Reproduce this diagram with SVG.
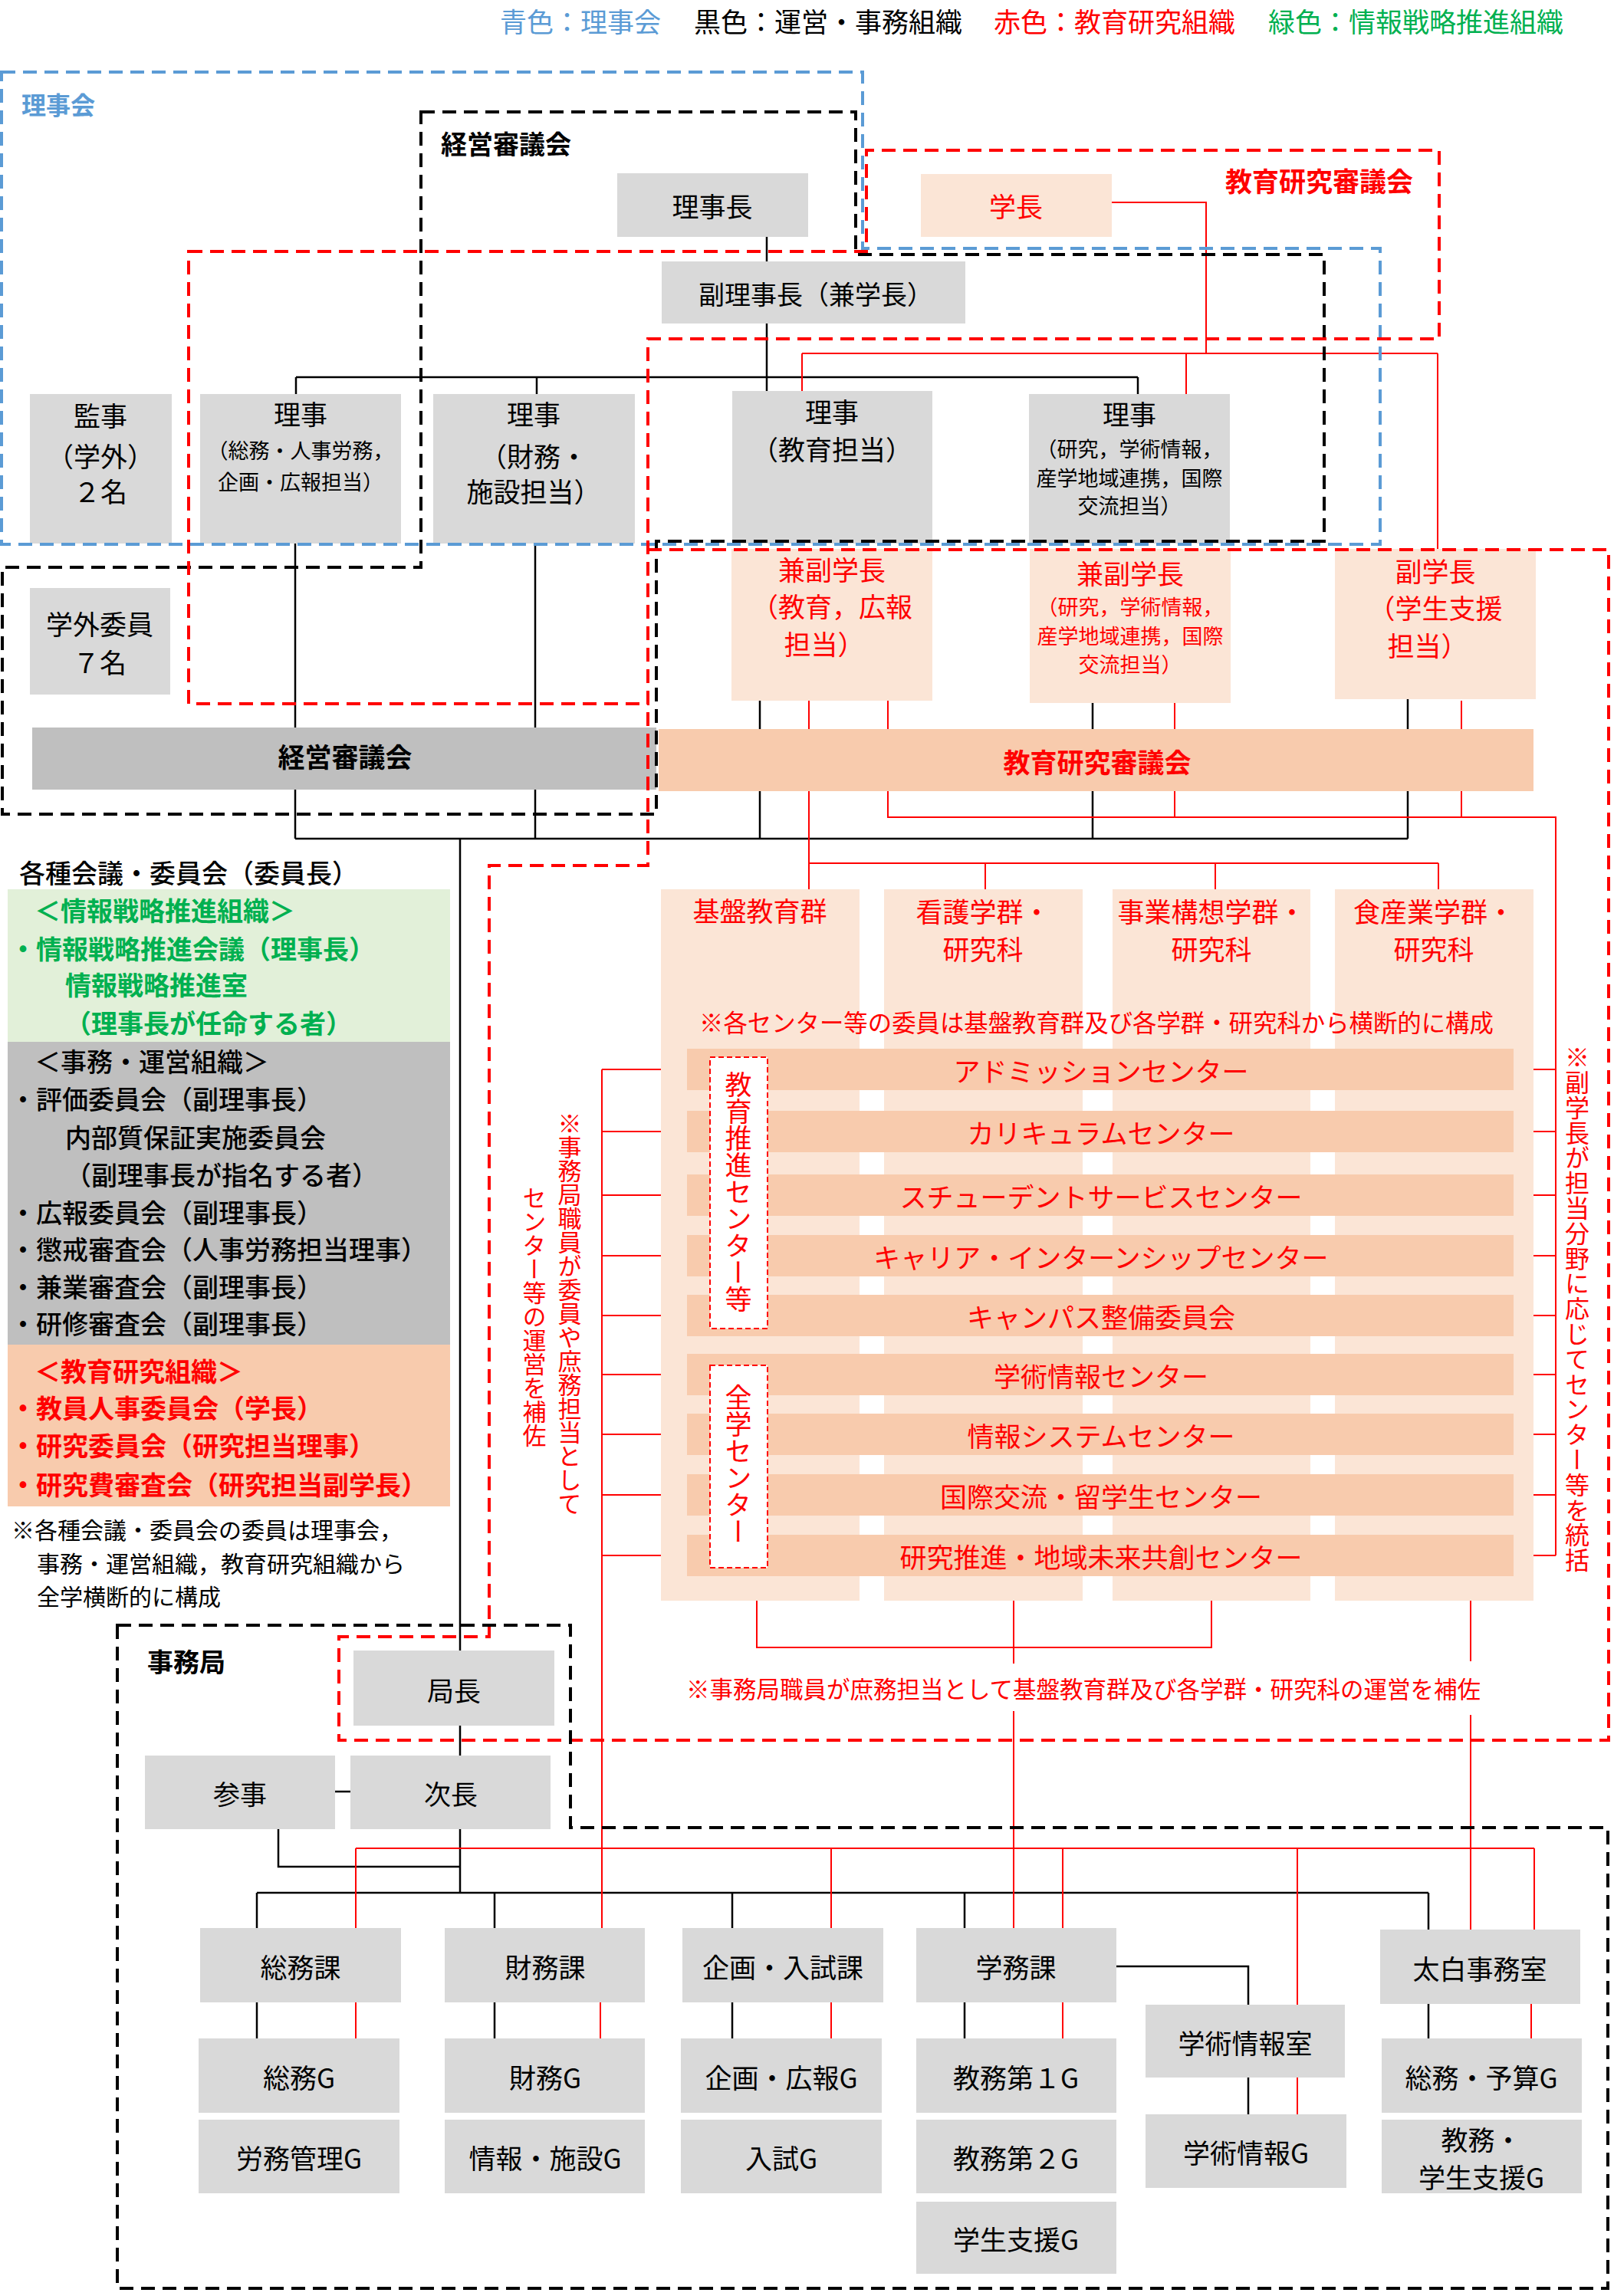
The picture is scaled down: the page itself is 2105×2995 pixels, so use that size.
<svg xmlns="http://www.w3.org/2000/svg" width="2105" height="2995" viewBox="0 0 2105 2995">
<defs>
<style>
text{font-family:"Noto Sans CJK JP","Noto Sans CJK SC",sans-serif;dominant-baseline:central}
.t{font-size:35px;fill:#000;text-anchor:middle}
.s{font-size:27px;fill:#000;text-anchor:middle}
.rd{fill:#ff0000}
.bd{font-weight:bold}
.md{font-weight:500}
.l{font-size:34px;text-anchor:start}
.v{writing-mode:vertical-rl;text-anchor:start;fill:#ff0000}
.g{fill:#d9d9d9}
.dg{fill:#bfbfbf}
.lo{fill:#fbe5d6}
.or{fill:#f8cbad}
.cb{stroke:#000;stroke-width:2.5;fill:none}
.cr{stroke:#ff0000;stroke-width:2;fill:none}
.dk{stroke:#000;stroke-width:4;stroke-dasharray:18 10;fill:none}
.dr{stroke:#ff0000;stroke-width:4;stroke-dasharray:18 10;fill:none}
.dbl{stroke:#5b9bd5;stroke-width:4;stroke-dasharray:18 10;fill:none}
.ds{stroke:#ff0000;stroke-width:2;stroke-dasharray:7 4;fill:#fff}
</style>
</defs>
<rect width="2105" height="2995" fill="#fff"/>

<g id="legend">
<text class="l" x="652" y="26" style="font-size:35px;fill:#5b9bd5">青色：理事会</text>
<text class="l" x="905" y="26" style="font-size:35px;fill:#000">黒色：運営・事務組織</text>
<text class="l" x="1296" y="26" style="font-size:35px;fill:#ff0000">赤色：教育研究組織</text>
<text class="l" x="1654" y="26" style="font-size:35px;fill:#00b050">緑色：情報戦略推進組織</text>
</g>

<g id="connectors">
<path class="cb" d="M1000,309V341M1000,422V510M386,492H1484M386,492V514M700,492V514M1484,492V514M385,709V1094M698,709V1094M385,1094H1836M991,914V1094M1425,917V1094M1836,912V1094M600,1094V2153M600,2251V2290M600,2386V2469M363,2386V2435H600M437,2337H457M335,2469H1863M335,2469V2515M645,2469V2515M955,2469V2515M1258,2469V2515M1863,2469V2517M1456,2565H1628V2615M335,2612V2659M645,2612V2659M955,2612V2659M1258,2612V2659M1863,2614V2659M1628,2710V2758"/>
<path class="cr" d="M1450,264H1573V461M1046,461H1875M1046,461V510M1547,461V514M1875,461V716M1055,914V1160M1055,1126H1876M1285,1126V1160M1585,1126V1160M1876,1126V1160M1158,914V1066H2029V2029M1532,917V1066M1906,914V1066M785,1395V2515M785,1395H896M785,1476H896M785,1559H896M785,1638H896M785,1716H896M785,1793H896M785,1871H896M785,1950H896M785,2029H896M1974,1395H2029M1974,1476H2029M1974,1559H2029M1974,1638H2029M1974,1716H2029M1974,1793H2029M1974,1871H2029M1974,1950H2029M1974,2029H2029M987,2088V2149H1580V2088M1322,2088V2170M1322,2232V2515M1918,2088V2167M1918,2237V2517M464,2411H2001M464,2411V2515M1084,2411V2515M1386,2411V2515M1692,2411V2615M2001,2411V2517M464,2612V2659M783,2612V2659M1084,2612V2659M1386,2612V2659M1997,2614V2659M1692,2710V2758"/>
</g>

<g id="rijicho"><rect class="g" x="805" y="226" width="249" height="83"/><text class="t" x="929" y="267">理事長</text></g>
<g id="gakucho"><rect class="lo" x="1201" y="227" width="249" height="82"/><text class="t rd" x="1325" y="267">学長</text></g>
<g id="fukurijicho"><rect class="g" x="863" y="341" width="396" height="81"/><text class="t" x="1064" y="382" style="font-size:34px">副理事長（兼学長）</text></g>
<g id="kanji"><rect class="g" x="39" y="514" width="185" height="195"/><text class="t" x="131" y="540">監事</text><text class="t" x="131" y="593">（学外）</text><text class="t" x="131" y="639">２名</text></g>
<g id="riji-somu"><rect class="g" x="261" y="514" width="262" height="195"/><text class="t" x="392" y="538">理事</text><text class="s" x="392" y="586">（総務・人事労務，</text><text class="s" x="392" y="627">企画・広報担当）</text></g>
<g id="riji-zaimu"><rect class="g" x="565" y="514" width="263" height="195"/><text class="t" x="696" y="538">理事</text><text class="t" x="696" y="593">（財務・</text><text class="t" x="696" y="639">施設担当）</text></g>
<g id="riji-kyoiku"><rect class="g" x="955" y="510" width="261" height="199"/><text class="t" x="1085" y="535">理事</text><text class="t" x="1085" y="584">（教育担当）</text></g>
<g id="riji-kenkyu"><rect class="g" x="1342" y="514" width="262" height="195"/><text class="t" x="1473" y="538">理事</text><text class="s" x="1473" y="584">（研究，学術情報，</text><text class="s" x="1473" y="622">産学地域連携，国際</text><text class="s" x="1473" y="658">交流担当）</text></g>

<g id="kenfuku-kyoiku"><rect class="lo" x="954" y="716" width="262" height="198"/><text class="t rd" x="1085" y="741">兼副学長</text><text class="t rd" x="1085" y="789">（教育，広報</text><text class="t rd" x="1075" y="838">担当）</text></g>
<g id="kenfuku-kenkyu"><rect class="lo" x="1343" y="716" width="262" height="201"/><text class="t rd" x="1474" y="746">兼副学長</text><text class="s rd" x="1474" y="790">（研究，学術情報，</text><text class="s rd" x="1474" y="828">産学地域連携，国際</text><text class="s rd" x="1474" y="865">交流担当）</text></g>
<g id="fukugakucho"><rect class="lo" x="1741" y="716" width="262" height="196"/><text class="t rd" x="1872" y="743">副学長</text><text class="t rd" x="1872" y="791">（学生支援</text><text class="t rd" x="1862" y="840">担当）</text></g>

<g id="gakugai"><rect class="g" x="39" y="767" width="183" height="139"/><text class="t" x="130" y="812">学外委員</text><text class="t" x="130" y="862">７名</text></g>
<g id="keiei-bar"><rect class="dg" x="42" y="949" width="814" height="81"/><text class="t bd" x="450" y="985">経営審議会</text></g>
<g id="kyoken-bar"><rect class="or" x="859" y="951" width="1141" height="81"/><text class="t bd rd" x="1431" y="992">教育研究審議会</text></g>

<g id="columns">
<rect class="lo" x="862" y="1160" width="259" height="928"/>
<rect class="lo" x="1153" y="1160" width="259" height="928"/>
<rect class="lo" x="1451" y="1160" width="258" height="928"/>
<rect class="lo" x="1741" y="1160" width="259" height="928"/>
<text class="t rd" x="991" y="1186">基盤教育群</text>
<text class="t rd" x="1282" y="1187">看護学群・</text><text class="t rd" x="1282" y="1236">研究科</text>
<text class="t rd" x="1580" y="1187">事業構想学群・</text><text class="t rd" x="1580" y="1236">研究科</text>
<text class="t rd" x="1870" y="1187">食産業学群・</text><text class="t rd" x="1870" y="1236">研究科</text>
<text class="rd" x="912" y="1332" style="font-size:31.4px">※各センター等の委員は基盤教育群及び各学群・研究科から横断的に構成</text>
</g>

<g id="centers">
<rect class="or" x="896" y="1368" width="1078" height="54"/><text class="t rd" x="1436" y="1395">アドミッションセンター</text>
<rect class="or" x="896" y="1449" width="1078" height="54"/><text class="t rd" x="1436" y="1476">カリキュラムセンター</text>
<rect class="or" x="896" y="1532" width="1078" height="54"/><text class="t rd" x="1436" y="1559">スチューデントサービスセンター</text>
<rect class="or" x="896" y="1611" width="1078" height="54"/><text class="t rd" x="1436" y="1638">キャリア・インターンシップセンター</text>
<rect class="or" x="896" y="1689" width="1078" height="54"/><text class="t rd" x="1436" y="1716">キャンパス整備委員会</text>
<rect class="or" x="896" y="1766" width="1078" height="54"/><text class="t rd" x="1436" y="1793">学術情報センター</text>
<rect class="or" x="896" y="1844" width="1078" height="54"/><text class="t rd" x="1436" y="1871">情報システムセンター</text>
<rect class="or" x="896" y="1923" width="1078" height="54"/><text class="t rd" x="1436" y="1950">国際交流・留学生センター</text>
<rect class="or" x="896" y="2002" width="1078" height="54"/><text class="t rd" x="1436" y="2029">研究推進・地域未来共創センター</text>
</g>
<g id="kyoiku-suishin"><rect class="ds" x="926" y="1379" width="75" height="354"/><text class="v" x="963" y="1397" style="font-size:35px">教育推進センター等</text></g>
<g id="zengaku"><rect class="ds" x="926" y="1781" width="75" height="264"/><text class="v" x="963" y="1805" style="font-size:35px">全学センター</text></g>
<g id="notes-v">
<text class="v" x="2057" y="1363" style="font-size:32px;letter-spacing:0.8px">※副学長が担当分野に応じてセンター等を統括</text>
<text class="v" x="743" y="1450" style="font-size:31px">※事務局職員が委員や庶務担当として</text>
<text class="v" x="697" y="1547" style="font-size:31px">センター等の運営を補佐</text>
</g>
<text class="rd" x="895" y="2202" style="font-size:30.5px">※事務局職員が庶務担当として基盤教育群及び各学群・研究科の運営を補佐</text>

<g id="committees">
<text class="l md" x="25" y="1137">各種会議・委員会（委員長）</text>
<rect x="10" y="1160" width="577" height="199" fill="#e2f0d9"/>
<g class="bd" style="fill:#00b050">
<text class="l" x="45" y="1186">＜情報戦略推進組織＞</text>
<text class="l" x="13" y="1236">・情報戦略推進会議（理事長）</text>
<text class="l" x="85" y="1283">情報戦略推進室</text>
<text class="l" x="85" y="1333">（理事長が任命する者）</text>
</g>
<rect class="dg" x="10" y="1359" width="577" height="395"/>
<g class="md">
<text class="l" x="45" y="1383">＜事務・運営組織＞</text>
<text class="l" x="13" y="1432">・評価委員会（副理事長）</text>
<text class="l" x="85" y="1482">内部質保証実施委員会</text>
<text class="l" x="85" y="1531">（副理事長が指名する者）</text>
<text class="l" x="13" y="1580">・広報委員会（副理事長）</text>
<text class="l" x="13" y="1628">・懲戒審査会（人事労務担当理事）</text>
<text class="l" x="13" y="1677">・兼業審査会（副理事長）</text>
<text class="l" x="13" y="1725">・研修審査会（副理事長）</text>
</g>
<rect class="or" x="10" y="1754" width="577" height="211"/>
<g class="bd rd">
<text class="l" x="45" y="1787">＜教育研究組織＞</text>
<text class="l" x="13" y="1835">・教員人事委員会（学長）</text>
<text class="l" x="13" y="1884">・研究委員会（研究担当理事）</text>
<text class="l" x="13" y="1935">・研究費審査会（研究担当副学長）</text>
</g>
<text x="15" y="1994" style="font-size:30px">※各種会議・委員会の委員は理事会，</text>
<text x="48" y="2038" style="font-size:30px">事務・運営組織，教育研究組織から</text>
<text x="48" y="2081" style="font-size:30px">全学横断的に構成</text>
</g>

<g id="kyokucho"><rect class="g" x="461" y="2153" width="262" height="98"/><text class="t" x="592" y="2203">局長</text></g>
<g id="sanji"><rect class="g" x="189" y="2290" width="248" height="96"/><text class="t" x="313" y="2338">参事</text></g>
<g id="jicho"><rect class="g" x="457" y="2290" width="261" height="96"/><text class="t" x="588" y="2338">次長</text></g>
<g id="somuka"><rect class="g" x="261" y="2515" width="262" height="97"/><text class="t" x="392" y="2564">総務課</text></g>
<g id="zaimuka"><rect class="g" x="580" y="2515" width="261" height="97"/><text class="t" x="711" y="2564">財務課</text></g>
<g id="kikakuka"><rect class="g" x="890" y="2515" width="262" height="97"/><text class="t" x="1021" y="2564">企画・入試課</text></g>
<g id="gakumuka"><rect class="g" x="1195" y="2515" width="261" height="97"/><text class="t" x="1325" y="2564">学務課</text></g>
<g id="taihaku"><rect class="g" x="1800" y="2517" width="261" height="97"/><text class="t" x="1930" y="2566">太白事務室</text></g>
<g id="gakujutsu-shitsu"><rect class="g" x="1494" y="2615" width="260" height="95"/><text class="t" x="1624" y="2663">学術情報室</text></g>
<g id="somu-g"><rect class="g" x="259" y="2659" width="262" height="97"/><text class="t" x="390" y="2708">総務G</text></g>
<g id="zaimu-g"><rect class="g" x="580" y="2659" width="261" height="97"/><text class="t" x="711" y="2708">財務G</text></g>
<g id="kikaku-g"><rect class="g" x="888" y="2659" width="262" height="97"/><text class="t" x="1019" y="2708">企画・広報G</text></g>
<g id="kyomu1-g"><rect class="g" x="1195" y="2659" width="261" height="97"/><text class="t" x="1325" y="2708">教務第１G</text></g>
<g id="somuyosan-g"><rect class="g" x="1802" y="2659" width="261" height="97"/><text class="t" x="1932" y="2708">総務・予算G</text></g>
<g id="romu-g"><rect class="g" x="259" y="2765" width="262" height="96"/><text class="t" x="390" y="2813">労務管理G</text></g>
<g id="joho-g"><rect class="g" x="580" y="2765" width="261" height="96"/><text class="t" x="711" y="2813">情報・施設G</text></g>
<g id="nyushi-g"><rect class="g" x="888" y="2765" width="262" height="96"/><text class="t" x="1019" y="2813">入試G</text></g>
<g id="kyomu2-g"><rect class="g" x="1195" y="2765" width="261" height="96"/><text class="t" x="1325" y="2813">教務第２G</text></g>
<g id="kyomugakusei-g"><rect class="g" x="1802" y="2765" width="261" height="96"/><text class="t" x="1932" y="2789">教務・</text><text class="t" x="1932" y="2838">学生支援G</text></g>
<g id="gakujutsu-g"><rect class="g" x="1494" y="2758" width="262" height="96"/><text class="t" x="1625" y="2806">学術情報G</text></g>
<g id="gakuseishien-g"><rect class="g" x="1195" y="2872" width="261" height="94"/><text class="t" x="1325" y="2919">学生支援G</text></g>

<g id="boundaries">
<path class="dbl" d="M2,94H1125V324H1800V710H2Z"/>
<path class="dk" d="M549,146H1116V332H1727V706H856V1062H3V740H549Z"/>
<path class="dr" d="M246,328H1130V196H1877V442H845V918H246Z"/>
<path class="dr" d="M845,717H2098V2270H442V2135H638V1129H845Z"/>
<path class="dk" d="M153,2120H744V2384H2097V2985H153Z"/>
<text x="28" y="135" class="bd" style="font-size:32px;fill:#5b9bd5">理事会</text>
<text x="575" y="186" class="bd" style="font-size:34px">経営審議会</text>
<text x="1598" y="234" class="bd rd" style="font-size:35px">教育研究審議会</text>
<text x="192" y="2166" class="bd" style="font-size:34px">事務局</text>
</g>
</svg>
